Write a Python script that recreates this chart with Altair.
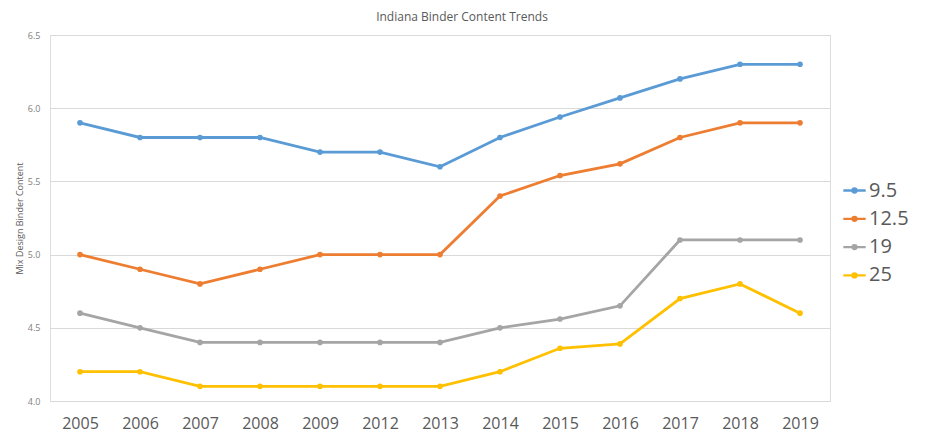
import altair as alt
import pandas as pd

years = ["2005", "2006", "2007", "2008", "2009", "2012", "2013",
         "2014", "2015", "2016", "2017", "2018", "2019"]
series_names = ["9.5", "12.5", "19", "25"]
s_9_5 = [5.9, 5.8, 5.8, 5.8, 5.7, 5.7, 5.6, 5.8, 5.94, 6.07, 6.2, 6.3, 6.3]
s_12_5 = [5.0, 4.9, 4.8, 4.9, 5.0, 5.0, 5.0, 5.4, 5.54, 5.62, 5.8, 5.9, 5.9]
s_19 = [4.6, 4.5, 4.4, 4.4, 4.4, 4.4, 4.4, 4.5, 4.56, 4.65, 5.1, 5.1, 5.1]
s_25 = [4.2, 4.2, 4.1, 4.1, 4.1, 4.1, 4.1, 4.2, 4.36, 4.39, 4.7, 4.8, 4.6]
colors = ["#5B9BD5", "#ED7D31", "#A5A5A5", "#FFC000"]

rows = []
for name, vals in zip(series_names, [s_9_5, s_12_5, s_19, s_25]):
    for y, v in zip(years, vals):
        rows.append({"Year": y, "Series": name, "Value": v})
df = pd.DataFrame(rows)

FONT = "Open Sans"

x = alt.X("Year:N", sort=years, title=None,
          scale=alt.Scale(padding=0.5),
          axis=alt.Axis(labelFontSize=16, labelColor="#595959", labelFont=FONT,
                        ticks=False, domain=False, grid=False, labelPadding=14,
                        labelAngle=0))
y = alt.Y("Value:Q", title="Mix Design Binder Content",
          scale=alt.Scale(domain=[4.0, 6.5], nice=False, zero=False),
          axis=alt.Axis(values=[4.0, 4.5, 5.0, 5.5, 6.0, 6.5], format=".1f",
                        labelFontSize=9, labelColor="#7f7f7f", labelFont=FONT,
                        ticks=False, domain=False, grid=True, gridColor="#d9d9d9",
                        gridWidth=1, labelPadding=10,
                        titleFont=FONT, titleFontSize=9, titleFontWeight="normal",
                        titleColor="#595959", titlePadding=3))

legend_symbol = ("M-1,0H1 M-0.18,0 A0.18,0.18 0 1,1 0.18,0 "
                 "A0.18,0.18 0 1,1 -0.18,0")
color = alt.Color("Series:N",
                  scale=alt.Scale(domain=series_names, range=colors),
                  legend=alt.Legend(title=None, orient="none", legendX=792, legendY=143,
                                    labelFontSize=20, labelColor="#595959",
                                    labelFont=FONT, symbolType=legend_symbol,
                                    symbolSize=500, symbolStrokeWidth=2.3,
                                    rowPadding=5.3, labelOffset=2, padding=0))

base = alt.Chart(df).encode(x=x, y=y, color=color,
                            order=alt.Order("Year:N"))
lines = base.mark_line(strokeWidth=2.8)
points = base.mark_circle(size=32, opacity=1)

chart = alt.layer(lines, points).properties(
    width=780, height=366,
    title=alt.TitleParams("Indiana Binder Content Trends", font=FONT, fontSize=12,
                          fontWeight="normal", color="#595959", anchor="middle",
                          dx=22, offset=7),
    autosize=alt.AutoSizeParams(type="none"),
    padding={"left": 42, "top": 27, "right": 90, "bottom": 31},
).configure_view(strokeWidth=0).configure(font=FONT)

chart.save("out.html", embed_options={"renderer": "svg", "actions": False})
